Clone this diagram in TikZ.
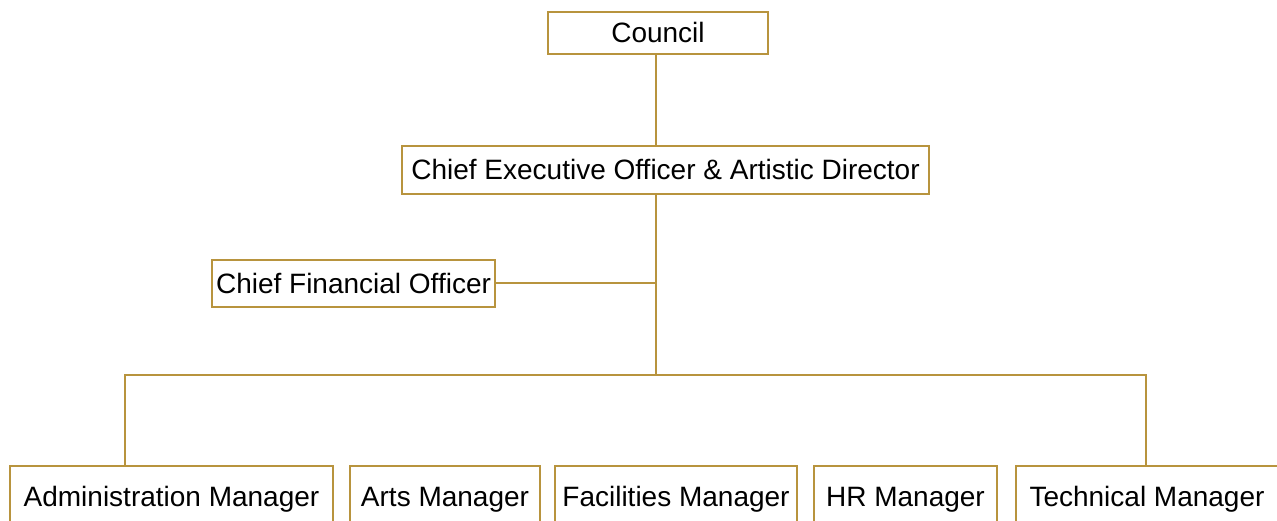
\documentclass[tikz,border=0pt]{standalone}
\usepackage{fontspec}
\setmainfont{Liberation Sans}
\definecolor{gold}{RGB}{184,148,62}
\begin{document}
\begin{tikzpicture}[x=1pt,y=-1pt,
  post/.style={rectangle, draw=gold, line width=2pt, fill=white, inner sep=0pt,
    text height=24pt, text depth=4pt,
    font=\fontsize{28}{33}\selectfont, text=black},
  link/.style={draw=gold, line width=2pt}]
\path[use as bounding box, clip] (0,0) rectangle (1277,521);
\fill[white] (0,0) rectangle (1277,521);

% upper levels
\node[post, minimum width=220pt, minimum height=42pt] (council) at (658,33) {Council};
\node[post, minimum width=527pt, minimum height=48pt] (ceo) at (665.5,170) {Chief Executive Officer \& Artistic Director};
\node[post, minimum width=283pt, minimum height=47pt] (cfo) at (353.5,283.5) {Chief Financial Officer};

% managers
\node[post, minimum width=323pt, minimum height=60pt] (admin) at (171.5,496) {Administration Manager};
\node[post, minimum width=190pt, minimum height=60pt] (arts) at (445,496) {Arts Manager};
\node[post, minimum width=242pt, minimum height=60pt] (fac) at (676,496) {Facilities Manager};
\node[post, minimum width=183pt, minimum height=60pt] (hr) at (905.5,496) {HR Manager};
\node[post, minimum width=262pt, minimum height=60pt] (tech) at (1147,496) {Technical Manager};

% bus junctions
\coordinate (jM) at (656,375);
\coordinate (jL) at (125,375);
\coordinate (jR) at (1146,375);

% connectors
\draw[link] (jM |- council.south) -- (jM |- ceo.north);
\draw[link] (jM |- ceo.south) -- (jM);
\draw[link] (cfo.east) -- (cfo.east -| jM);
\draw[link] (jL |- admin.north) -- (jL) -- (jR) -- (jR |- tech.north);
\end{tikzpicture}
\end{document}
